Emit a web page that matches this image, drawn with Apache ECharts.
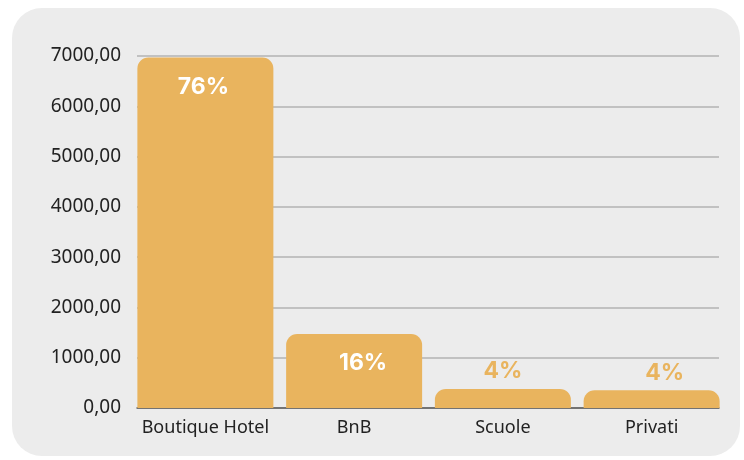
<!DOCTYPE html>
<html>
<head>
<meta charset="utf-8">
<script src="https://cdn.jsdelivr.net/npm/echarts@6/dist/echarts.min.js"></script>
<style>
html,body{margin:0;padding:0;background:#ffffff;}
#chart{width:744px;height:460px;}
</style>
</head>
<body>
<div id="chart"></div>
<script>
var categories = ['Boutique Hotel', 'BnB', 'Scuole', 'Privati'];
var values = [6970, 1470, 380, 352];
var percentLabels = ['76%', '16%', '4%', '4%'];
var yTicks = [0, 1000, 2000, 3000, 4000, 5000, 6000, 7000];

var barColor = '#E9B45E';
var chart = echarts.init(document.getElementById('chart'));

var labelStyle = [
  {position: 'insideTop', distance: 18, color: '#ffffff', offset: [-2, 0]},
  {position: 'insideTop', distance: 17, color: '#ffffff', offset: [9, 0]},
  {position: 'top', distance: 6, color: barColor, offset: [0, 0]},
  {position: 'top', distance: 6, color: barColor, offset: [13, 0]}
];

var data = values.map(function (v, i) {
  var s = labelStyle[i];
  return {
    value: v,
    label: {
      show: true,
      position: s.position,
      distance: s.distance,
      offset: s.offset,
      color: s.color,
      fontSize: 23,
      fontWeight: 'bold',
      fontFamily: 'Inter',
      formatter: function () { return percentLabels[i]; }
    }
  };
});

var yMin = yTicks[0], yMax = yTicks[yTicks.length - 1];

chart.setOption({
  animation: false,
  backgroundColor: '#ffffff',
  graphic: [{
    type: 'rect',
    z: -10,
    shape: {x: 12, y: 8, width: 728, height: 448, r: 30},
    style: {fill: '#ececec'}
  }],
  grid: [
    {left: 137, right: 25, top: 56, bottom: 52, containLabel: false},
    {left: 131, right: 18, top: 56, bottom: 52, containLabel: false}
  ],
  xAxis: [{
    gridIndex: 0,
    type: 'category',
    data: categories,
    axisLine: {show: true, lineStyle: {color: '#5a5a5a', width: 1.5}},
    axisTick: {show: false},
    axisLabel: {show: false}
  }, {
    gridIndex: 1,
    type: 'category',
    data: categories,
    axisLine: {show: false},
    axisTick: {show: false},
    axisLabel: {interval: 0, color: '#222222', fontSize: 18, fontFamily: 'Noto Sans', margin: 11}
  }],
  yAxis: [{
    gridIndex: 0,
    type: 'value',
    min: yMin,
    max: yMax,
    interval: 1000,
    axisLine: {show: false},
    axisTick: {show: false},
    axisLabel: {
      color: '#222222', fontSize: 19, fontFamily: 'Noto Sans', margin: 16,
      formatter: function (v) { return v.toFixed(2).replace('.', ','); }
    },
    splitLine: {lineStyle: {color: '#b3b3b3', width: 1.5}}
  }, {
    gridIndex: 1,
    type: 'value',
    min: yMin,
    max: yMax,
    interval: 1000,
    show: false,
    splitLine: {show: false}
  }],
  series: [{
    type: 'bar',
    xAxisIndex: 1,
    yAxisIndex: 1,
    data: data,
    barWidth: 136,
    z: 3,
    itemStyle: {color: barColor, borderRadius: [11, 11, 0, 0]}
  }]
});
</script>
</body>
</html>
